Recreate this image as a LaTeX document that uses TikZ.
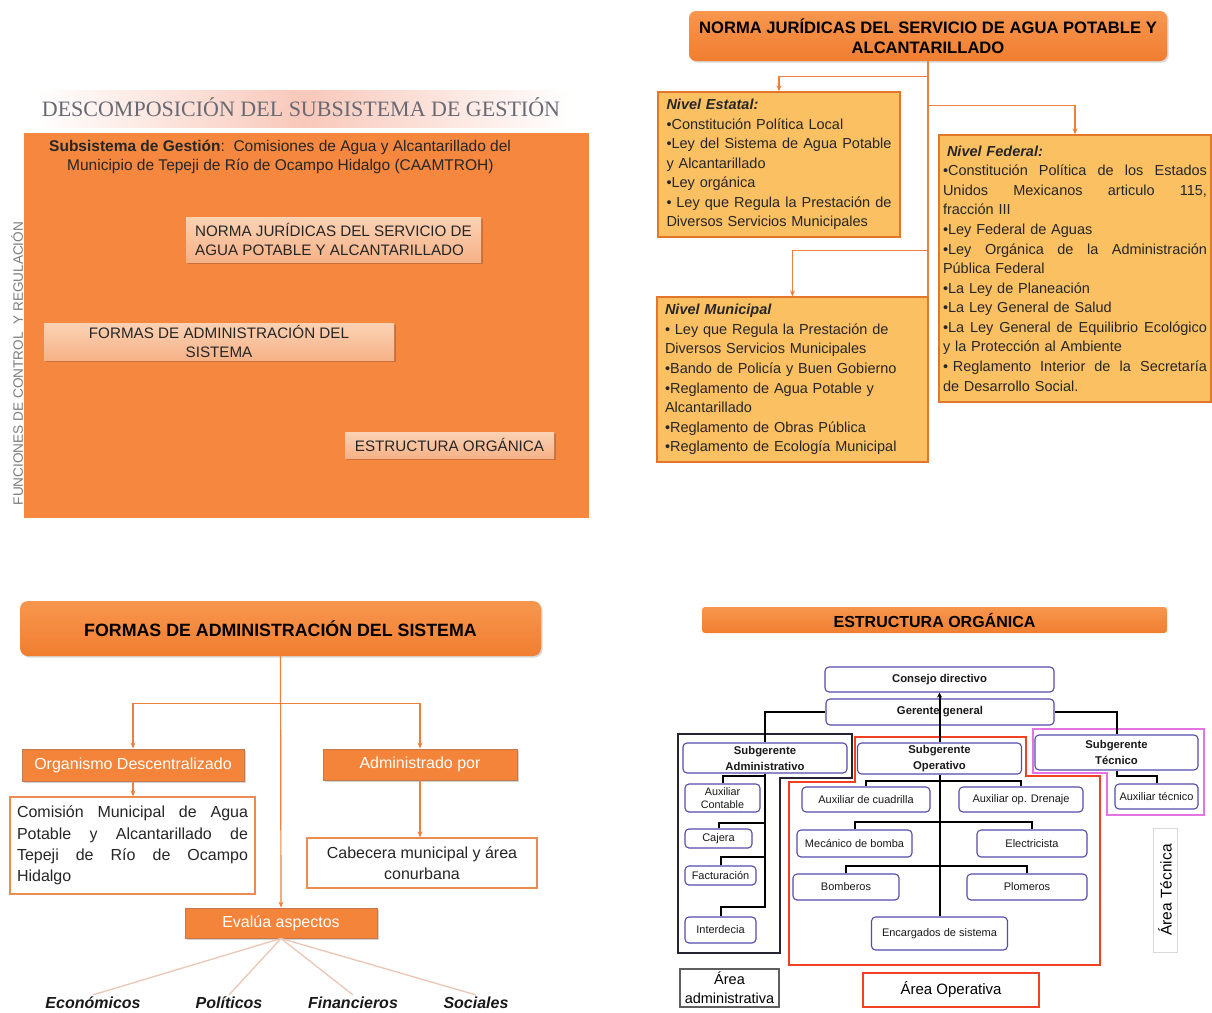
\documentclass[tikz,border=0pt]{standalone}
\usepackage{fontspec}
\setmainfont{Liberation Sans}
\newfontfamily\titleserif{Liberation Serif}
\usetikzlibrary{arrows.meta,shadows}
\newcommand{\jline}[2]{\leavevmode\hbox to #1{#2}}
\newcommand{\fsz}[2]{\fontsize{#1}{#2}\selectfont}
\definecolor{panelorange}{RGB}{245,136,62}
\definecolor{hdrtop}{RGB}{248,150,78}
\definecolor{hdrbot}{RGB}{240,126,48}
\definecolor{lvlfill}{RGB}{251,192,98}
\definecolor{lvlborder}{RGB}{226,118,42}
\definecolor{peachtop}{RGB}{251,210,180}
\definecolor{peachbot}{RGB}{246,178,136}
\definecolor{lineorange}{RGB}{236,128,60}
\definecolor{fanline}{RGB}{236,198,180}
\definecolor{titlegray}{RGB}{105,105,115}
\definecolor{sidegray}{RGB}{125,125,125}
\definecolor{orgblue}{RGB}{85,75,170}
\definecolor{areablack}{RGB}{35,35,50}
\definecolor{areared}{RGB}{240,65,35}
\definecolor{areamag}{RGB}{228,115,228}
\definecolor{titleband}{RGB}{248,200,186}
\definecolor{shadowc}{RGB}{170,95,60}
\definecolor{oboxfill}{RGB}{243,132,58}
\definecolor{oboxdraw}{RGB}{196,120,82}
\definecolor{wboxdraw}{RGB}{236,140,80}
\definecolor{admgray}{RGB}{95,95,95}
\definecolor{tecgray}{RGB}{215,215,215}
\begin{document}
\begin{tikzpicture}[x=1pt,y=-1pt,
  every node/.style={inner sep=0pt},
  peachbox/.style={top color=peachtop,bottom color=peachbot,text=black!85,
    font=\fsz{15.2}{18.5},
    drop shadow={shadow xshift=2pt,shadow yshift=-2pt,fill=shadowc,opacity=0.6}},
  hdr/.style={top color=hdrtop,bottom color=hdrbot,rounded corners=7pt,text=black,
    drop shadow={shadow xshift=1.5pt,shadow yshift=-1.5pt,fill=black!30,opacity=0.5}},
  lvl/.style={fill=lvlfill,draw=lvlborder,line width=1.3pt,align=left,
    font=\fsz{14.5}{19.57},text=black!85},
  oline/.style={draw=lineorange,line width=1.2pt},
  oarr/.style={oline,-{Stealth[length=6pt,width=5pt]}},
  obox/.style={fill=oboxfill,draw=oboxdraw,line width=0.9pt,text=white,font=\fsz{16}{20},
    drop shadow={shadow xshift=1.5pt,shadow yshift=-1.5pt,fill=black!35,opacity=0.5}},
  wbox/.style={fill=white,draw=wboxdraw,line width=1.2pt,font=\fsz{16}{21.3},text=black!85},
  orgbox/.style={fill=white,draw=orgblue,line width=1.1pt,rounded corners=4pt,
    font=\fsz{11}{14},text=black!90},
  orgbold/.style={orgbox,font=\bfseries\fsz{11.3}{16}},
  orgline/.style={draw=black,line width=2pt},
  fanlab/.style={font=\bfseries\itshape\fsz{16}{20},text=black!90,inner sep=2pt}
]
\useasboundingbox (0,0) rectangle (1212,1012);
\fill[white] (0,0) rectangle (1212,1012);

% ================= Panel 1 =================
\shade[left color=white,right color=white,middle color=titleband] (36,90) rectangle (571,127);
\node[font=\titleserif\fsz{22}{26},text=titlegray] (ttl) at (301,107) {DESCOMPOSICIÓN DEL SUBSISTEMA DE GESTIÓN};
\node[fill=panelorange,minimum width=565,minimum height=385] (tlbg) at (306.5,325.5) {};
\node[anchor=north west,align=left,font=\fsz{15.5}{18.5},text=black!85] (subs) at (49,140)
  {\textbf{Subsistema de Gestión}:\ \ Comisiones de Agua y Alcantarillado del\\
   \hspace*{18pt}Municipio de Tepeji de Río de Ocampo Hidalgo (CAAMTROH)};
\node[peachbox,minimum width=295,minimum height=45,align=left] (pnj) at (333.5,239.5)
  {NORMA JURÍDICAS DEL SERVICIO DE\\AGUA POTABLE Y ALCANTARILLADO};
\node[peachbox,minimum width=350,minimum height=37,align=center] (pfa) at (219,341.5)
  {FORMAS DE ADMINISTRACIÓN DEL\\SISTEMA};
\node[peachbox,minimum width=209,minimum height=26] (peo) at (449.5,445) {ESTRUCTURA ORGÁNICA};
\node[rotate=90,font=\fsz{13.6}{16},text=sidegray] (side) at (17,363.5) {FUNCIONES DE CONTROL\ \ Y REGULACIÓN};

% ================= Panel 2 =================
\node[hdr,minimum width=478,minimum height=50,align=center,font=\bfseries\fsz{16.6}{20}] (nj) at (928,36)
  {NORMA JURÍDICAS DEL SERVICIO DE AGUA POTABLE Y\\ALCANTARILLADO};
\node[lvl,minimum width=242,minimum height=145,text width=225] (est) at (779,164.5)
  {\textbf{\textit{Nivel Estatal:}}\\
   •Constitución Política Local\\
   \jline{225pt}{•Ley\hfill del\hfill Sistema\hfill de\hfill Agua\hfill Potable}\\
   y Alcantarillado\\
   •Ley orgánica\\
   \jline{225pt}{•\ Ley\hfill que\hfill Regula\hfill la\hfill Prestación\hfill de}\\
   Diversos Servicios Municipales};
\node[lvl,minimum width=272,minimum height=267,text width=264] (fed) at (1075,268.5)
  {\hspace*{4pt}\textbf{\textit{Nivel Federal:}}\\
   \jline{264pt}{•Constitución\hfill Política\hfill de\hfill los\hfill Estados}\\
   \jline{264pt}{Unidos\hfill Mexicanos\hfill articulo\hfill 115,}\\
   fracción III\\
   •Ley Federal de Aguas\\
   \jline{264pt}{•Ley\hfill Orgánica\hfill de\hfill la\hfill Administración}\\
   Pública Federal\\
   •La Ley de Planeación\\
   •La Ley General de Salud\\
   \jline{264pt}{•La\hfill Ley\hfill General\hfill de\hfill Equilibrio\hfill Ecológico}\\
   y la Protección al Ambiente\\
   \jline{264pt}{•\ Reglamento\hfill Interior\hfill de\hfill la\hfill Secretaría}\\
   de Desarrollo Social.};
\node[lvl,minimum width=271,minimum height=165,text width=255] (mun) at (792.5,379.5)
  {\textbf{\textit{Nivel Municipal}}\\
   • Ley que Regula la Prestación de\\
   Diversos Servicios Municipales\\
   •Bando de Policía y Buen Gobierno\\
   •Reglamento de Agua Potable y\\
   Alcantarillado\\
   •Reglamento de Obras Pública\\
   •Reglamento de Ecología Municipal};
\draw[oline] (nj.south) -- (nj.south |- mun.north);
\draw[oarr] (nj.south) -- ++(0,15) -| (est.north);
\draw[oarr] (nj.south) -- ++(0,44) -| (fed.north);
\draw[oarr] (nj.south) -- ++(0,189) -| (mun.north);

% ================= Panel 3 =================
\node[hdr,rounded corners=8pt,minimum width=521,minimum height=55,font=\bfseries\fsz{17.8}{20}] (fa) at (280.5,628.5)
  {FORMAS DE ADMINISTRACIÓN DEL SISTEMA};
\node[obox,minimum width=222,minimum height=32] (org) at (133,765) {Organismo Descentralizado};
\node[obox,minimum width=194,minimum height=31] (adm) at (420,764.5) {Administrado por};
\node[wbox,minimum width=245,minimum height=97,text width=231,align=left] (com) at (132.5,845.5)
  {\jline{231pt}{Comisión\hfill Municipal\hfill de\hfill Agua}\\
   \jline{231pt}{Potable\hfill y\hfill Alcantarillado\hfill de}\\
   \jline{231pt}{Tepeji\hfill de\hfill Río\hfill de\hfill Ocampo}\\
   Hidalgo};
\node[wbox,minimum width=230,minimum height=50,align=center] (cab) at (422,863)
  {Cabecera municipal y área\\conurbana};
\node[obox,minimum width=192,minimum height=30] (ev) at (281,923) {Evalúa aspectos};
\node[fanlab] (eco) at (93,1003) {Económicos};
\node[fanlab] (pol) at (229,1003) {Políticos};
\node[fanlab] (fin) at (353,1003) {Financieros};
\node[fanlab] (soc) at (476,1003) {Sociales};
\draw[oarr] (fa.south) -- (ev.north);
\draw[oarr] (fa.south) -- ++(0,47) -| (org.north);
\draw[oarr] (fa.south) -- ++(0,47) -| (adm.north);
\draw[oarr] (org.south) -- (org.south |- com.north);
\draw[oarr] (adm.south) -- (adm.south |- cab.north);
\draw[draw=fanline,line width=1.3pt] (ev.south) -- (eco.north);
\draw[draw=fanline,line width=1.3pt] (ev.south) -- (pol.north);
\draw[draw=fanline,line width=1.3pt] (ev.south) -- (fin.north);
\draw[draw=fanline,line width=1.3pt] (ev.south) -- (soc.north);

% ================= Panel 4 =================
\node[top color=hdrtop,bottom color=hdrbot,rounded corners=3pt,minimum width=465,minimum height=26,
  font=\bfseries\fsz{16}{20},text=black] (eo) at (934.5,620) {ESTRUCTURA ORGÁNICA};
% area outlines
\draw[areablack,line width=1.5pt] (678,734) -- (852,734) -- (852,778) -- (780,778) -- (780,953) -- (678,953) -- cycle;
\draw[areared,line width=1.5pt] (855,737) -- (1026,737) -- (1026,776) -- (1100,776) -- (1100,965) -- (789,965) -- (789,782) -- (855,782) -- cycle;
\draw[areamag,line width=1.5pt] (1033,729) -- (1204,729) -- (1204,815) -- (1107,815) -- (1107,773) -- (1033,773) -- cycle;
% boxes
\node[orgbold,minimum width=229,minimum height=25] (cons) at (939.5,679.5) {Consejo directivo};
\node[orgbold,minimum width=228,minimum height=26] (ger) at (940,712) {Gerente general};
\node[orgbold,minimum width=164,minimum height=30,align=center] (subadm) at (765,758) {Subgerente\\Administrativo};
\node[orgbold,minimum width=164,minimum height=31,align=center] (subop) at (939.5,758.5) {Subgerente\\Operativo};
\node[orgbold,minimum width=163,minimum height=35,align=center] (subtec) at (1116.5,752.5) {Subgerente\\Técnico};
\node[orgbox,minimum width=75,minimum height=28,align=center,font=\fsz{10.8}{13.5}] (auxcont) at (722.5,798) {Auxiliar\\Contable};
\node[orgbox,minimum width=67,minimum height=19] (caj) at (718.5,838.5) {Cajera};
\node[orgbox,minimum width=71,minimum height=19] (fac) at (720.5,875.5) {Facturación};
\node[orgbox,minimum width=71,minimum height=26] (inter) at (720.5,930) {Interdecia};
\node[orgbox,minimum width=128,minimum height=25] (auxcu) at (866,799.5) {Auxiliar de cuadrilla};
\node[orgbox,minimum width=124,minimum height=25] (auxdr) at (1021,799.5) {Auxiliar op. Drenaje};
\node[orgbox,minimum width=115,minimum height=27] (mec) at (854.5,843.5) {Mecánico de bomba};
\node[orgbox,minimum width=110,minimum height=27] (ele) at (1032,843.5) {Electricista};
\node[orgbox,minimum width=106,minimum height=26] (bom) at (846,887) {Bomberos};
\node[orgbox,minimum width=120,minimum height=26] (plo) at (1027,887) {Plomeros};
\node[orgbox,minimum width=136,minimum height=33] (enc) at (939.5,933.5) {Encargados de sistema};
\node[orgbox,minimum width=83,minimum height=25] (auxtec) at (1156.5,796.5) {Auxiliar técnico};
% org connectors
\draw[orgline,-{Stealth[length=5pt,width=5pt]}] (subop.north) -- (subop.north |- cons.south);
\draw[orgline] (ger.west) -| (subadm.north);
\draw[orgline] (ger.east) -| (subtec.north);
\draw[orgline] (auxcont.north) -- ++(0,-7) -| (subadm.south);
\draw[orgline] (caj.north) -- ++(0,-5) -| (subadm.south);
\draw[orgline] (fac.north) -- ++(0,-8) -| (subadm.south);
\draw[orgline] (inter.north) -- ++(0,-9) -| (subadm.south);
\draw[orgline] (auxcu.north) -- ++(0,-5) -| (subop.south);
\draw[orgline] (auxdr.north) -- ++(0,-5) -| (subop.south);
\draw[orgline] (mec.north) -- ++(0,-7) -| (subop.south);
\draw[orgline] (ele.north) -- ++(0,-7) -| (subop.south);
\draw[orgline] (bom.north) -- ++(0,-7) -| (subop.south);
\draw[orgline] (plo.north) -- ++(0,-7) -| (subop.south);
\draw[orgline] (enc.north) -- (subop.south);
\draw[orgline] (auxtec.north) -- ++(0,-7) -| (subtec.south);
% area labels
\node[draw=admgray,line width=1.2pt,minimum width=99,minimum height=38,align=center,font=\fsz{14.5}{19}] (aadm) at (729.5,988) {Área\\administrativa};
\node[draw=areared,line width=1.2pt,minimum width=176,minimum height=34,font=\fsz{15}{18}] (aop) at (951,990) {Área Operativa};
\node[draw=tecgray,line width=1pt,minimum width=124,minimum height=24,rotate=90,font=\fsz{15.5}{18}] (atec) at (1165,890) {Área Técnica};
\end{tikzpicture}
\end{document}
